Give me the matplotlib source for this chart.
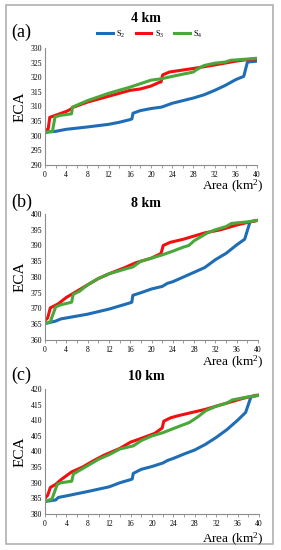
import matplotlib
matplotlib.use("Agg")
import matplotlib.pyplot as plt
from matplotlib.patches import Rectangle
from matplotlib.ticker import MultipleLocator

plt.rcParams['font.family'] = ['Liberation Serif', 'DejaVu Serif']
plt.rcParams['mathtext.fontset'] = 'stix'

# ---------------- data ----------------
titles = ["4 km", "8 km", "10 km"]
panel_tags = ["(a)", "(b)", "(c)"]
series_names = [r"S$_\mathregular{2}$", r"S$_\mathregular{3}$", r"S$_\mathregular{4}$"]
ylims = [(290, 330), (360, 400), (380, 420)]

# Panel (a) 4 km
a_s2_x = [0, 2, 4, 8, 12, 14, 16, 16.4, 16.6, 18, 20, 22, 24, 26, 28, 30, 32, 34, 36, 37.5, 38.2, 40]
a_s2_y = [301.2, 301.5, 302.2, 303.0, 303.9, 304.6, 305.5, 305.8, 307.7, 308.6, 309.3, 309.8, 311.1, 312.0, 312.9, 314.0, 315.5, 317.2, 319.2, 320.3, 325.2, 325.5]
a_s3_x = [0, 0.6, 0.9, 2, 4, 4.9, 5.1, 8, 12, 16, 18, 20, 21.6, 21.9, 22.2, 23.5, 28, 32, 36, 38, 40]
a_s3_y = [301.8, 302.3, 306.3, 307.0, 308.3, 309.1, 309.6, 311.5, 313.5, 315.5, 316.0, 317.0, 318.3, 318.4, 320.8, 321.8, 323.0, 324.2, 325.5, 326.0, 326.3]
a_s4_x = [0, 1.4, 1.9, 3, 5, 5.2, 8, 12, 16, 20, 22, 24, 28, 28.5, 30, 32, 34, 35, 38, 40]
a_s4_y = [301.2, 301.5, 306.5, 307.0, 307.5, 309.8, 312.0, 314.5, 316.6, 319.0, 319.5, 320.3, 321.8, 322.5, 324.0, 324.8, 325.2, 325.8, 326.2, 326.5]

# Panel (b) 8 km
b_s2_x = [0, 2, 3, 8, 12, 14, 16, 16.3, 16.5, 18, 20, 22, 23, 24, 28, 30, 32, 34, 36, 37.5, 38.5, 40]
b_s2_y = [365.2, 366.0, 366.7, 368.2, 369.8, 370.8, 371.8, 372.0, 374.2, 375.0, 376.2, 377.0, 378.0, 378.5, 381.5, 383.0, 385.5, 387.5, 390.2, 392.0, 397.5, 398.0]
b_s3_x = [0, 0.5, 1, 2.5, 4, 6, 8, 10, 12, 15, 17, 20, 21.8, 22.2, 23.5, 26, 28, 30, 33, 36, 38.5, 40]
b_s3_y = [366.2, 367.0, 370.2, 371.5, 373.5, 375.5, 377.5, 379.5, 381.0, 383.0, 384.5, 386.0, 387.5, 390.0, 391.0, 392.0, 393.0, 394.0, 395.0, 396.5, 397.5, 398.0]
b_s4_x = [0, 1, 2, 3, 5, 5.3, 6.5, 8, 10, 12, 15, 16.5, 18, 21, 22, 24, 26, 27, 28, 29.5, 30.5, 32, 34, 35, 38, 40]
b_s4_y = [365.2, 365.8, 370.5, 371.2, 372.0, 374.5, 375.5, 377.5, 379.5, 381.0, 382.5, 383.2, 385.0, 386.5, 387.0, 388.2, 389.5, 390.0, 391.5, 393.0, 394.0, 395.0, 396.0, 397.0, 397.5, 398.0]

# Panel (c) 10 km
c_s2_x = [0, 2, 2.5, 4, 8, 12, 14, 16, 16.3, 16.5, 18, 20, 22, 23, 24, 26, 28, 30, 32, 34, 36, 37.5, 38.5, 40]
c_s2_y = [384.0, 384.5, 385.3, 385.8, 387.2, 388.7, 390.0, 391.0, 391.2, 393.0, 394.3, 395.2, 396.3, 397.2, 397.8, 399.2, 400.5, 402.3, 404.5, 407.0, 410.0, 412.5, 417.5, 418.0]
c_s3_x = [0, 0.5, 1, 2, 3, 5, 7, 9, 11, 14, 16, 18, 20.5, 21.9, 22.2, 23.5, 25, 27.5, 30, 32, 35, 37, 39.5, 40]
c_s3_y = [385.0, 386.0, 388.5, 389.5, 391.0, 393.5, 395.0, 397.0, 398.8, 401.0, 403.0, 404.2, 405.8, 407.5, 409.7, 410.8, 411.5, 412.5, 413.5, 414.5, 416.0, 417.0, 418.0, 418.0]
c_s4_x = [0, 1.3, 2.3, 3, 5, 5.3, 6.5, 8, 10, 12, 14, 16.5, 18, 20, 22, 25, 27, 28.5, 30, 32, 34, 35, 38, 40]
c_s4_y = [384.0, 384.8, 389.5, 390.0, 390.5, 392.8, 394.0, 395.5, 397.5, 399.0, 400.8, 401.8, 403.5, 405.0, 406.0, 408.0, 409.3, 411.0, 413.0, 414.5, 415.5, 416.5, 417.5, 418.0]

panels = [
    [(a_s2_x, a_s2_y), (a_s3_x, a_s3_y), (a_s4_x, a_s4_y)],
    [(b_s2_x, b_s2_y), (b_s3_x, b_s3_y), (b_s4_x, b_s4_y)],
    [(c_s2_x, c_s2_y), (c_s3_x, c_s3_y), (c_s4_x, c_s4_y)],
]
colors = ['#1f6db5', '#f01010', '#4aa83a']

# ---------------- figure ----------------
W, H = 281, 550
fig = plt.figure(figsize=(W / 100, H / 100), dpi=100)
fig.patch.set_facecolor('white')

def px(x0, y0, x1, y1):
    return [x0 / W, 1 - y1 / H, (x1 - x0) / W, (y1 - y0) / H]

# outer frame
fig.patches.append(Rectangle((6 / W, 1 - 544 / H), 267 / W, 539 / H, transform=fig.transFigure,
                             fill=False, edgecolor='#b0b0b0', linewidth=1.2))

ax_boxes = [(45, 48, 257, 165), (45, 214, 258, 340), (45, 389, 259, 514)]
title_y = [18, 204, 376]
tag_y = [32, 202, 375]
xlabel_y = [186, 362, 539]

for i, (box, series) in enumerate(zip(ax_boxes, panels)):
    ax = fig.add_axes(px(*box))
    lines = []
    for (xs, ys), c, nm in zip(series, colors, series_names):
        ln, = ax.plot(xs, ys, color=c, lw=2.2, label=nm, solid_joinstyle='round')
        lines.append(ln)
    ax.set_xlim(0, 40)
    ax.set_ylim(*ylims[i])
    ax.xaxis.set_major_locator(MultipleLocator(4))
    ax.xaxis.set_minor_locator(MultipleLocator(2))
    ax.yaxis.set_major_locator(MultipleLocator(5))
    for s in ['top', 'right']:
        ax.spines[s].set_visible(False)
    for s in ['left', 'bottom']:
        ax.spines[s].set_color('#8c8c8c')
        ax.spines[s].set_linewidth(0.8)
    ax.tick_params(axis='both', which='both', direction='out', colors='#8c8c8c', labelcolor='black',
                   labelsize=5.5, length=2, width=0.6, pad=2)
    ax.tick_params(axis='y', length=0)
    ax.set_facecolor('none')
    yc = (box[1] + box[3]) / 2
    fig.text(20 / W, 1 - yc / H, 'ECA', fontsize=11, rotation=90, ha='center', va='center')
    fig.text(146 / W, 1 - title_y[i] / H, titles[i], fontsize=10, fontweight='bold',
             ha='center', va='center')
    fig.text(11 / W, 1 - tag_y[i] / H, panel_tags[i], fontsize=13, ha='left', va='center')
    fig.text(264 / W, 1 - xlabel_y[i] / H, r'Area (km$^\mathregular{2}$)', fontsize=9.5,
             ha='right', va='center')
    if i == 0:
        ax.legend(handles=lines, loc='center', bbox_to_anchor=(150 / W, 1 - 34 / H),
                  bbox_transform=fig.transFigure, ncol=3, frameon=False, fontsize=6,
                  handlelength=1.9, handletextpad=0.4, columnspacing=1.2)

fig.savefig('out.png', dpi=100)
